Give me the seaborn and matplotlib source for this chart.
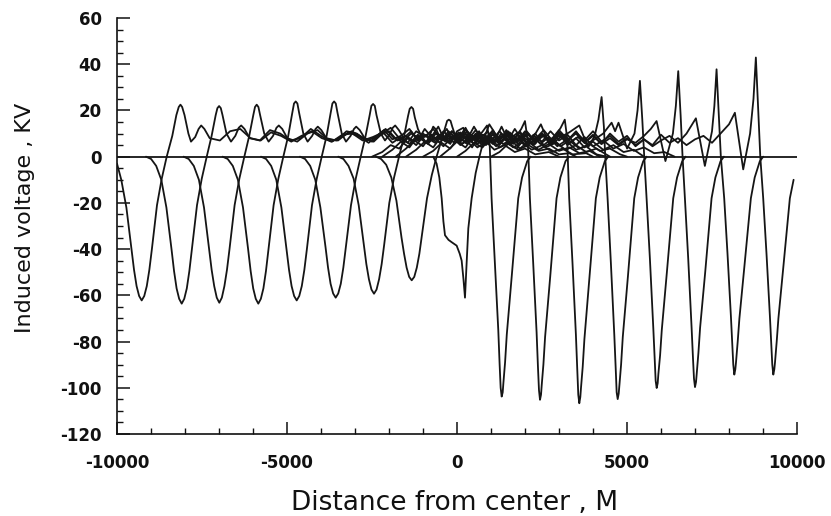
import matplotlib
matplotlib.use("Agg")
import matplotlib.pyplot as plt
from matplotlib.ticker import MultipleLocator
import seaborn as sns
import pandas as pd

# ---------------- data ----------------
# Each curve: (distance [m], induced voltage [kV]); flat 0 stretches are the common baseline
L1 = [(-10000, -3), (-9874, -10), (-9724, -22), (-9574, -40), (-9499, -49), (-9424, -56), (-9349, -60.3),
      (-9274, -62.2), (-9199, -60.3), (-9124, -56), (-9049, -49), (-8974, -40), (-8824, -21),
      (-8684, -9.5), (-8538, 0), (-8374, 9), (-8254, 18), (-8184, 21.5), (-8134, 22.5), (-8084, 21.5),
      (-8014, 18), (-7900, 10), (-7824, 6.5), (-7700, 8.5), (-7600, 12), (-7524, 13.5), (-7430, 12),
      (-7274, 8), (-6974, 7), (-6674, 11), (-6374, 12), (-6074, 8), (-5774, 7), (-5474, 10.5),
      (-5174, 9), (-4874, 6.5), (-4574, 9), (-4274, 11), (-3974, 8), (-3674, 6.5), (-3374, 9.5),
      (-3074, 10), (-2774, 7), (-2474, 8.5), (-2174, 10.5), (-1900, 6), (-1650, 8.5), (-1400, 5.5),
      (-1150, 9.5), (-900, 6), (-650, 8), (-400, 4.5), (-150, 8.5), (100, 5), (350, 7.5), (600, 4),
      (850, 6.5), (1100, 3), (1400, 5), (1700, 2), (2000, 3.5), (2300, 1), (2700, 2), (3000, 0)]
L2 = [(-9147, 0), (-8997, -1), (-8847, -4), (-8697, -10), (-8547, -22), (-8397, -40), (-8322, -49.5),
      (-8247, -57), (-8172, -61.5), (-8097, -63.6), (-8022, -61.5), (-7947, -57), (-7872, -49.5),
      (-7797, -40), (-7647, -21), (-7507, -9.5), (-7361, 0), (-7217, 9), (-7097, 18), (-7047, 21),
      (-6997, 21.9), (-6947, 21), (-6897, 18), (-6780, 10), (-6647, 6.5), (-6520, 9), (-6420, 12.5),
      (-6347, 13.5), (-6250, 12), (-6097, 8), (-5800, 7), (-5500, 11.5), (-5200, 10), (-4900, 7),
      (-4600, 8), (-4300, 12), (-4000, 9), (-3700, 6.5), (-3400, 8.5), (-3100, 11), (-2800, 8.5),
      (-2500, 6.5), (-2250, 9.5), (-2000, 11), (-1750, 7), (-1500, 9), (-1250, 6.5), (-1000, 10),
      (-750, 7), (-500, 9.5), (-250, 6), (0, 10), (250, 6), (500, 8.5), (750, 5), (1000, 7.5),
      (1250, 4), (1500, 6), (1800, 3), (2100, 5), (2400, 2.5), (2700, 3.5), (3000, 1), (3300, 1.5),
      (3500, 0)]
L3 = [(-8041, 0), (-7891, -1), (-7741, -4), (-7591, -10), (-7441, -22), (-7291, -40), (-7216, -49),
      (-7141, -56), (-7066, -61), (-6991, -63.2), (-6916, -61), (-6841, -56), (-6766, -49),
      (-6691, -40), (-6541, -21), (-6401, -9.5), (-6255, 0), (-6111, 9), (-5991, 18), (-5941, 21.5),
      (-5891, 22.5), (-5841, 21.5), (-5791, 18), (-5670, 10), (-5541, 6.5), (-5410, 9), (-5310, 12.5),
      (-5241, 13.5), (-5140, 12), (-4991, 8), (-4700, 6.5), (-4400, 10), (-4100, 11.5), (-3800, 7.5),
      (-3500, 7), (-3200, 10.5), (-2900, 9), (-2600, 6), (-2350, 9), (-2100, 12), (-1850, 8),
      (-1600, 6.5), (-1350, 10), (-1100, 8), (-850, 5.5), (-600, 10.5), (-350, 7), (-100, 9),
      (150, 5.5), (400, 9.5), (650, 6), (900, 8), (1150, 4.5), (1400, 7.5), (1650, 4), (1900, 6),
      (2200, 3), (2500, 5), (2800, 2), (3100, 3.5), (3400, 1), (3800, 1.5), (4000, 0)]
L4 = [(-6894, 0), (-6744, -1), (-6594, -4), (-6444, -10), (-6294, -22), (-6144, -40), (-6069, -49.5),
      (-5994, -57), (-5919, -61.5), (-5844, -63.6), (-5769, -61.5), (-5694, -57), (-5619, -49.5),
      (-5544, -40), (-5394, -21), (-5254, -9.5), (-5108, 0), (-4964, 9), (-4844, 19), (-4794, 23),
      (-4744, 23.9), (-4694, 23), (-4644, 19), (-4520, 10), (-4394, 6.5), (-4260, 9), (-4160, 12),
      (-4094, 13), (-3990, 11.5), (-3844, 8), (-3550, 7), (-3250, 11), (-2950, 10), (-2650, 7),
      (-2400, 8.5), (-2150, 11.5), (-1900, 7.5), (-1650, 9), (-1400, 12), (-1150, 7), (-900, 9.5),
      (-650, 6), (-400, 11), (-150, 7.5), (100, 10), (350, 6), (600, 9), (850, 5), (1100, 8.5),
      (1350, 5.5), (1600, 7), (1850, 3.5), (2100, 6.5), (2400, 3), (2700, 5.5), (3000, 2.5),
      (3300, 4), (3600, 1.5), (3900, 2.5), (4200, 0)]
L5 = [(-5765, 0), (-5615, -1), (-5465, -4), (-5315, -10), (-5165, -22), (-5015, -40), (-4940, -49),
      (-4865, -56), (-4790, -60.3), (-4715, -62.2), (-4640, -60.3), (-4565, -56), (-4490, -49),
      (-4415, -40), (-4265, -21), (-4125, -9.5), (-3979, 0), (-3835, 9), (-3715, 19), (-3665, 23),
      (-3615, 23.9), (-3565, 23), (-3515, 19), (-3390, 10), (-3265, 6.5), (-3130, 9), (-3030, 12),
      (-2965, 13), (-2860, 11.5), (-2715, 8), (-2450, 6.5), (-2200, 10), (-1950, 12.5), (-1700, 8),
      (-1450, 6), (-1200, 11), (-950, 8.5), (-700, 12), (-450, 7), (-200, 10.5), (50, 6.5), (300, 11),
      (550, 7.5), (800, 9.5), (1050, 5.5), (1300, 9), (1550, 6), (1800, 8), (2050, 4.5), (2300, 7.5),
      (2600, 4), (2900, 6), (3200, 3), (3500, 5), (3800, 2), (4100, 3.5), (4500, 0)]
L6 = [(-4618, 0), (-4468, -1), (-4318, -4), (-4168, -10), (-4018, -22), (-3868, -39), (-3793, -48),
      (-3718, -55), (-3643, -59.2), (-3568, -61), (-3493, -59.2), (-3418, -55), (-3343, -48),
      (-3268, -39), (-3118, -21), (-2978, -9.5), (-2832, 0), (-2688, 9), (-2568, 18), (-2518, 22),
      (-2468, 22.8), (-2418, 22), (-2368, 18), (-2240, 10), (-2118, 7), (-1990, 9.5), (-1890, 12.5),
      (-1818, 13.5), (-1710, 11.5), (-1568, 8), (-1350, 11), (-1150, 7), (-950, 12), (-750, 8.5),
      (-550, 13), (-350, 6.5), (-150, 11), (50, 8), (250, 12.5), (450, 7), (650, 10.5), (850, 6.5),
      (1050, 11.5), (1250, 7.5), (1450, 10), (1650, 5.5), (1850, 9), (2050, 6), (2300, 10), (2550, 5),
      (2800, 8), (3050, 4.5), (3300, 7), (3600, 3.5), (3900, 5.5), (4200, 2.5), (4500, 3.5),
      (4800, 1), (5000, 0)]
L7 = [(-3491, 0), (-3341, -1), (-3191, -4), (-3041, -9.5), (-2891, -21), (-2741, -38), (-2666, -46.5),
      (-2591, -53), (-2516, -57.5), (-2441, -59.3), (-2366, -57.5), (-2291, -53), (-2216, -46.5),
      (-2141, -38), (-1991, -20), (-1851, -9), (-1705, 0), (-1561, 8.5), (-1441, 17.5), (-1391, 20.7),
      (-1341, 21.5), (-1291, 20.7), (-1241, 17), (-1150, 12), (-1050, 9), (-900, 6), (-780, 10),
      (-700, 13), (-600, 11.5), (-500, 8), (-300, 12), (-100, 6), (100, 10.5), (300, 7.5), (500, 13),
      (700, 8), (900, 11), (1100, 6), (1300, 10), (1500, 7), (1700, 12), (1900, 7.5), (2100, 10),
      (2300, 5.5), (2500, 9.5), (2750, 6.5), (3000, 10), (3250, 5), (3500, 8), (3750, 4), (4000, 6.5),
      (4300, 3), (4600, 5), (4900, 2), (5200, 3), (5500, 0)]
L8 = [(-2382, 0), (-2232, -1), (-2082, -3.5), (-1932, -9), (-1782, -19), (-1632, -35), (-1557, -42),
      (-1482, -48), (-1407, -52), (-1332, -53.5), (-1257, -52), (-1182, -48), (-1107, -42),
      (-1032, -34), (-882, -18), (-742, -8), (-600, 0), (-460, 7), (-340, 13), (-290, 15.5),
      (-240, 16), (-190, 15.5), (-140, 13), (-50, 9), (50, 6), (250, 12), (450, 7), (650, 11),
      (850, 5.5), (1050, 10), (1250, 6.5), (1450, 11.5), (1650, 7), (1850, 10.5), (2050, 5),
      (2250, 9), (2500, 6.5), (2750, 11), (3000, 7), (3250, 9.5), (3500, 5), (3750, 8.5), (4000, 4.5),
      (4300, 7), (4600, 3.5), (4900, 5.5), (5200, 2.5), (5500, 4), (5800, 1.5), (6100, 2), (6400, 0)]
C0 = [(-700, 0), (-600, -3), (-520, -9), (-451, -18), (-400, -28), (-353, -34), (-250, -36),
      (-157, -37), (-10, -38.5), (80, -42), (137, -45), (190, -53), (235, -61), (280, -47),
      (333, -31), (431, -18), (550, -7), (660, 0), (800, 8), (950, 14), (1080, 11), (1250, 5),
      (1450, 10), (1650, 7), (1850, 11), (2050, 6), (2250, 9.5), (2450, 5.5), (2700, 8.5),
      (2950, 4.5), (3200, 7), (3500, 3), (3800, 4.5), (4100, 1), (4400, 0)]
R1 = [(-2500, 0), (-2200, 2), (-1950, 5), (-1700, 3.5), (-1450, 8), (-1200, 5), (-950, 9.5),
      (-700, 6.5), (-450, 10), (-200, 5.5), (0, 11), (184, 12.5), (350, 6), (444, 4), (600, 8),
      (760, 11), (884, 13.5), (960, 6), (974, 0), (1017, -18), (1114, -46), (1214, -75), (1254, -90),
      (1284, -100), (1314, -103.8), (1344, -102), (1364, -98), (1414, -89), (1464, -77), (1614, -51),
      (1801, -18), (1914, -9), (2064, -2), (2164, 0)]
R2 = [(-2200, 0), (-1900, 3), (-1650, 6.5), (-1400, 4), (-1150, 9), (-900, 6), (-650, 10.5),
      (-400, 7), (-150, 11), (100, 6.5), (350, 10), (600, 5.5), (850, 9), (1100, 6.5), (1311, 13),
      (1500, 7), (1571, 5), (1750, 9), (1890, 12), (1999, 15.4), (2080, 7), (2101, 0), (2144, -18),
      (2241, -46), (2341, -76), (2381, -91), (2411, -101), (2441, -105.2), (2471, -103), (2491, -99),
      (2541, -90), (2591, -78), (2741, -52), (2928, -18), (3041, -9), (3191, -2), (3291, 0)]
R3 = [(-1800, 0), (-1500, 3.5), (-1250, 7), (-1000, 4.5), (-750, 9.5), (-500, 6), (-250, 11), (0, 7),
      (250, 10), (500, 5.5), (750, 9.5), (1000, 6.5), (1250, 11), (1500, 7), (1750, 10), (2000, 5),
      (2250, 8.5), (2467, 14), (2650, 7.5), (2727, 5), (2900, 9), (3050, 12.5), (3170, 16),
      (3240, 8), (3257, 0), (3300, -18), (3397, -46), (3497, -77), (3537, -92), (3567, -103),
      (3597, -106.7), (3627, -104), (3647, -100), (3697, -91), (3747, -79), (3897, -52), (4084, -18),
      (4197, -9), (4347, -2), (4447, 0)]
R4 = [(-1500, 0), (-1200, 3), (-950, 6.5), (-700, 4), (-450, 9), (-200, 6.5), (50, 10.5), (300, 7),
      (550, 11.5), (800, 6), (1050, 9.5), (1300, 6), (1550, 10.5), (1800, 7), (2050, 11), (2300, 6.5),
      (2550, 9), (2800, 5.5), (3050, 8.5), (3300, 10.5), (3596, 13.5), (3856, 4), (4050, 9),
      (4160, 16), (4253, 25.8), (4320, 13), (4360, 0), (4429, -18), (4526, -46), (4626, -77),
      (4666, -91), (4696, -102), (4726, -104.9), (4756, -102.5), (4776, -99), (4826, -90),
      (4876, -78), (5026, -52), (5213, -18), (5326, -9), (5476, -2), (5576, 0)]
R5 = [(-1000, 0), (-700, 2.5), (-450, 6), (-200, 3.5), (50, 8.5), (300, 5.5), (550, 10), (800, 7),
      (1050, 11), (1300, 6.5), (1550, 9.5), (1800, 5.5), (2050, 10), (2300, 7.5), (2550, 11.5),
      (2800, 7), (3050, 10), (3300, 6), (3550, 8.5), (3800, 5.5), (4050, 7.5), (4300, 10),
      (4547, 14.7), (4650, 11), (4750, 14.7), (5003, 3.5), (5220, 10), (5310, 20), (5380, 32.8),
      (5450, 16), (5507, 0), (5576, -18), (5673, -44), (5773, -74), (5813, -87), (5843, -97),
      (5873, -100.1), (5903, -98), (5923, -94), (5973, -86), (6023, -75), (6173, -50), (6360, -18),
      (6473, -9), (6623, -2), (6723, 0)]
R6 = [(-500, 0), (-250, 3), (0, 6.5), (250, 4), (500, 9), (750, 6), (1000, 10.5), (1250, 7.5),
      (1500, 11), (1750, 6), (2000, 9.5), (2250, 5.5), (2500, 10), (2750, 7), (3000, 11.5),
      (3250, 7.5), (3500, 10), (3750, 6), (4000, 9), (4250, 5.5), (4500, 8), (4750, 5), (5000, 7.5),
      (5250, 6), (5500, 9), (5700, 12), (5870, 15.4), (6130, -1.9), (6350, 10), (6437, 22),
      (6507, 37), (6577, 18), (6634, 0), (6703, -18), (6800, -44), (6900, -74), (6940, -87),
      (6970, -96), (7000, -99.7), (7030, -97.5), (7050, -94), (7100, -85), (7150, -74), (7300, -50),
      (7487, -18), (7600, -9), (7750, -2), (7850, 0)]
R7 = [(0, 0), (250, 2.5), (500, 6), (750, 4), (1000, 8.5), (1250, 5.5), (1500, 10), (1750, 6.5),
      (2000, 11), (2250, 7), (2500, 10), (2750, 5.5), (3000, 9), (3250, 6.5), (3500, 10.5),
      (3750, 7), (4000, 11), (4250, 6.5), (4500, 9), (4750, 5.5), (5000, 8), (5250, 5), (5500, 7.5),
      (5750, 4.5), (6000, 7), (6250, 9), (6500, 6), (6750, 10), (7026, 16.6), (7290, -4), (7500, 11),
      (7570, 22), (7634, 37.8), (7700, 18), (7760, 0), (7859, -18), (7956, -42), (8056, -69),
      (8096, -81), (8126, -90), (8156, -94.3), (8186, -92), (8206, -89), (8256, -80), (8306, -70),
      (8456, -47), (8643, -18), (8756, -9), (8906, -2), (9006, 0)]
R8 = [(1000, 0), (1250, 2), (1500, 5.5), (1750, 3.5), (2000, 8), (2250, 5), (2500, 9.5), (2750, 6),
      (3000, 10.5), (3250, 7), (3500, 11), (3750, 6), (4000, 9.5), (4250, 5.5), (4500, 10),
      (4750, 6.5), (5000, 9), (5250, 4.5), (5500, 7.5), (5750, 5), (6000, 9.5), (6250, 6), (6500, 8),
      (6750, 5), (7000, 7.5), (7250, 9), (7500, 6), (7750, 10), (8000, 14), (8173, 19),
      (8418, -5.5), (8620, 10), (8720, 25), (8790, 42.9), (8860, 20), (8920, 0), (9006, -18),
      (9103, -42), (9203, -69), (9243, -81), (9273, -90), (9303, -94.3), (9333, -92), (9353, -89),
      (9403, -80), (9453, -70), (9603, -47), (9790, -18), (9900, -10)]

curves = {"L1": L1, "L2": L2, "L3": L3, "L4": L4, "L5": L5, "L6": L6, "L7": L7, "L8": L8,
          "C0": C0, "R1": R1, "R2": R2, "R3": R3, "R4": R4, "R5": R5, "R6": R6, "R7": R7, "R8": R8}

x_ticks = [-10000, -5000, 0, 5000, 10000]
y_ticks = [-120, -100, -80, -60, -40, -20, 0, 20, 40, 60]
baseline = 0
x_label = "Distance from center , M"
y_label = "Induced voltage , KV"

rows = []
for name, pts in curves.items():
    for i, (x, y) in enumerate(pts):
        rows.append({"curve": name, "order": i, "x": x, "y": y})
df = pd.DataFrame(rows)

# ---------------- plotting ----------------
sns.set_style("ticks")
plt.rcParams["font.family"] = ["DejaVu Sans"]
plt.rcParams["axes.unicode_minus"] = False

fig = plt.figure(figsize=(8.31, 5.16), dpi=100)
ax = fig.add_axes([117 / 831, 1 - 434 / 516, 680 / 831, 416 / 516])

line_color = "#151515"
ax.axhline(baseline, color=line_color, linewidth=1.3, zorder=1)
sns.lineplot(data=df, x="x", y="y", units="curve", estimator=None, sort=False,
             color=line_color, linewidth=1.3, ax=ax, legend=False)

ax.set_xlim(-10000, 10000)
ax.set_ylim(-120, 60)
ax.set_xticks(x_ticks)
ax.set_xticklabels([str(v) for v in x_ticks])
ax.set_yticks(y_ticks)
ax.set_yticklabels([str(v) for v in y_ticks])
ax.xaxis.set_minor_locator(MultipleLocator(1000))
ax.yaxis.set_minor_locator(MultipleLocator(5))

ax.tick_params(axis="both", which="major", direction="in", length=9, width=1.1,
               labelsize=12, color="#111111")
ax.tick_params(axis="both", which="minor", direction="in", length=4.5, width=1.0, color="#111111")
ax.tick_params(axis="y", which="major", pad=11)
ax.tick_params(axis="x", which="major", pad=14.5)
for lab in ax.get_xticklabels() + ax.get_yticklabels():
    lab.set_fontweight("bold")
    lab.set_color("#111111")

sns.despine(ax=ax)
for s in ("left", "bottom"):
    ax.spines[s].set_linewidth(1.2)
    ax.spines[s].set_color("#111111")

ax.set_xlabel(x_label, fontsize=19, color="#111111", va="center", ha="center")
ax.set_ylabel(y_label, fontsize=16, color="#111111", va="center", ha="center")
ax.xaxis.set_label_coords(0.497, -0.166)
ax.yaxis.set_label_coords(-0.135, 0.52)

fig.savefig("out.png", dpi=100)
